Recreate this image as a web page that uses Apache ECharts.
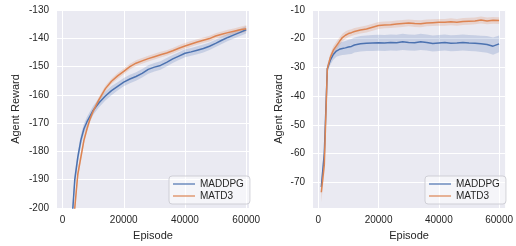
<!DOCTYPE html>
<html>
<head>
<meta charset="utf-8">
<script src="https://cdn.jsdelivr.net/npm/echarts@6/dist/echarts.min.js"></script>
<style>
  html, body { margin: 0; padding: 0; background: #fff; }
  #chart { width: 516px; height: 246px; }
</style>
</head>
<body>
<div id="chart"></div>
<script>
// left panel
const leftX = [1000, 2000, 3000, 4000, 5000, 6000, 7000, 8000, 9000, 10000, 12000, 14000, 16000, 18000, 20000,
  22000, 24000, 26000, 28000, 30000, 32000, 34000, 36000, 38000, 40000, 42000, 44000, 46000, 48000, 50000,
  52000, 54000, 56000, 58000, 60000];
const leftMaddpg = [-290, -240, -206, -190, -182, -176, -172, -169.5, -167.5, -165.5, -162.7, -160.4, -158.5, -157, -155.5,
  -154.4, -153.5, -152.4, -151, -150.2, -149.6, -148.5, -147.3, -146.3, -145.3, -144.8, -144.2, -143.6, -142.8, -141.8,
  -140.7, -139.7, -138.8, -137.9, -137];
const leftMaddpgSpread = [6, 5, 3, 2.5, 2, 2, 1.8, 1.8, 1.7, 1.6, 1.6, 1.6, 1.6, 1.5, 1.5,
  1.5, 1.5, 1.5, 1.5, 1.5, 1.5, 1.5, 1.4, 1.4, 1.4, 1.4, 1.4, 1.4, 1.3, 1.3,
  1.3, 1.3, 1.3, 1.3, 1.3];
const leftMatd3 = [-300, -260, -225, -200, -188, -182, -176, -172, -168.5, -165.8, -161.5, -157.8, -155.2, -153.3, -151.7,
  -150, -148.8, -148, -147.2, -146.5, -145.8, -145.2, -144.4, -143.5, -142.7, -142, -141.3, -140.7, -140.1, -139.2,
  -138.6, -138, -137.5, -137, -136.6];
const leftMatd3Spread = [6, 5, 3, 2.5, 2, 1.6, 1.4, 1.2, 1.1, 1.1, 1, 1, 1, 1, 1,
  1, 1, 1, 1, 1, 1, 1, 1, 1, 1, 1, 1, 1, 1, 1,
  1, 1, 1, 1.1, 1.2];

// right panel
const rightX = [1000, 2000, 3000, 4000, 5000, 6000, 7000, 8000, 9000, 10000, 11000, 12000, 14000, 16000, 18000, 20000,
  22000, 24000, 26000, 28000, 30000, 32000, 34000, 36000, 38000, 40000, 42000, 44000, 46000, 48000, 50000,
  52000, 54000, 56000, 58000, 60000];
const rightMaddpg = [-71.7, -60, -30.5, -27.5, -25.5, -24.3, -23.7, -23.4, -23.2, -22.9, -22.7, -22.2, -21.8, -21.6, -21.5, -21.4,
  -21.5, -21.3, -21.4, -21.1, -21.3, -21.4, -21.1, -21.3, -21.7, -21.5, -21.3, -21.6, -21.5, -21.3, -21.5,
  -21.6, -21.8, -22.0, -22.6, -21.8];
const rightMaddpgSpread = [2.5, 3, 1.5, 1.6, 1.8, 2, 2.2, 2.3, 2.4, 2.5, 2.6, 2.6, 2.7, 2.7, 2.8, 2.8,
  2.8, 2.8, 2.8, 2.8, 2.8, 2.8, 2.8, 2.8, 2.8, 2.8, 2.8, 2.8, 2.8, 2.8, 2.8,
  2.8, 2.8, 2.9, 3, 2.9];
const rightMatd3 = [-73.5, -64, -30.5, -26.5, -24, -22.5, -21, -19.6, -18.8, -18.2, -17.9, -17.5, -17.0, -16.6, -16.0, -15.4,
  -15.2, -15.1, -14.9, -14.7, -14.5, -14.7, -14.8, -14.5, -14.4, -14.3, -14.3, -14.1, -14.3, -14.0, -13.9,
  -13.8, -13.5, -13.8, -13.6, -13.7];
const rightMatd3Spread = [3.5, 3, 1.2, 1.3, 1.4, 1.4, 1.4, 1.3, 1.3, 1.2, 1.2, 1.2, 1.2, 1.2, 1.2, 1.2,
  1.2, 1.2, 1.2, 1.2, 1.2, 1.2, 1.2, 1.2, 1.2, 1.2, 1.2, 1.2, 1.2, 1.2, 1.2,
  1.2, 1.2, 1.2, 1.2, 1.2];

const xTicks = [0, 20000, 40000, 60000];
const leftYTicks = [-200, -190, -180, -170, -160, -150, -140, -130];
const rightYTicks = [-70, -60, -50, -40, -30, -20, -10];

const BLUE = '#4C72B0';
const ORANGE = '#DD8452';
const TEXT = '#262626';
const FONT = '"Liberation Sans", Arial, sans-serif';

function pts(xs, ys) {
  return xs.map((x, i) => [x, ys[i]]);
}

// confidence band drawn as one polygon through the axis scales
function bandSeries(xs, ys, spread, color, idx) {
  const rows = xs.map((x, i) => [x, ys[i] - spread[i], ys[i] + spread[i]]);
  return {
    type: 'custom', xAxisIndex: idx, yAxisIndex: idx, silent: true, clip: true, z: 1,
    data: rows,
    encode: { x: 0, y: [1, 2] },
    renderItem: function (params, api) {
      if (params.dataIndex !== 0) return;
      const top = rows.map(r => api.coord([r[0], r[2]]));
      const bottom = rows.map(r => api.coord([r[0], r[1]])).reverse();
      const cs = params.coordSys;
      return {
        type: 'polygon',
        shape: { points: top.concat(bottom) },
        style: { fill: color, opacity: 0.22 },
        clipPath: { type: 'rect', shape: { x: cs.x, y: cs.y, width: cs.width, height: cs.height } }
      };
    }
  };
}

function mainLine(name, xs, ys, color, idx) {
  return {
    name: name, type: 'line', xAxisIndex: idx, yAxisIndex: idx,
    data: pts(xs, ys), symbol: 'none', color: color,
    lineStyle: { color: color, width: 1.5 }, z: 3
  };
}

function xAxisCfg(idx, min, max) {
  return {
    type: 'value', gridIndex: idx, min: min, max: max,
    name: 'Episode', nameLocation: 'middle', nameGap: 22,
    nameTextStyle: { color: TEXT, fontSize: 11, fontFamily: FONT },
    axisLine: { show: false }, axisTick: { show: false, customValues: xTicks },
    axisLabel: { customValues: xTicks, formatter: v => String(v), color: TEXT, fontSize: 10, fontFamily: FONT, margin: 7 },
    splitLine: { show: true, lineStyle: { color: '#fff', width: 1 } }
  };
}

function yAxisCfg(idx, min, max, ticks, gap) {
  return {
    type: 'value', gridIndex: idx, min: min, max: max,
    name: 'Agent Reward', nameLocation: 'middle', nameGap: gap,
    nameTextStyle: { color: TEXT, fontSize: 11, fontFamily: FONT },
    axisLine: { show: false }, axisTick: { show: false, customValues: ticks },
    axisLabel: { customValues: ticks, color: TEXT, fontSize: 10, fontFamily: FONT, margin: 8 },
    splitLine: { show: true, lineStyle: { color: '#fff', width: 1 } }
  };
}

function legendCfg(left) {
  return {
    data: ['MADDPG', 'MATD3'], orient: 'vertical', left: left, top: 176,
    backgroundColor: 'rgba(255,255,255,0.5)', borderColor: '#cfcfd6', borderWidth: 1, borderRadius: 3,
    padding: [3, 6, 3, 4], itemGap: 2, itemWidth: 22, itemHeight: 12,
    icon: 'path://M0,5.4 L22,5.4 L22,6.6 L0,6.6 Z',
    textStyle: { color: TEXT, fontSize: 10, fontFamily: FONT }, selectedMode: false
  };
}

const chart = echarts.init(document.getElementById('chart'), null, { renderer: 'canvas' });
chart.setOption({
  animation: false,
  backgroundColor: '#fff',
  grid: [
    { left: 57, top: 10, width: 192, height: 204, show: true, backgroundColor: '#EAEAF2', borderWidth: 0 },
    { left: 313, top: 10, width: 194, height: 204, show: true, backgroundColor: '#EAEAF2', borderWidth: 0 }
  ],
  xAxis: [xAxisCfg(0, -1800, 60900), xAxisCfg(1, -1750, 62000)],
  yAxis: [yAxisCfg(0, -200, -130, leftYTicks, 36), yAxisCfg(1, -79, -10, rightYTicks, 29)],
  legend: [legendCfg(169), legendCfg(425)],
  series: [
    bandSeries(leftX, leftMaddpg, leftMaddpgSpread, BLUE, 0),
    bandSeries(leftX, leftMatd3, leftMatd3Spread, ORANGE, 0),
    mainLine('MADDPG', leftX, leftMaddpg, BLUE, 0),
    mainLine('MATD3', leftX, leftMatd3, ORANGE, 0),
    bandSeries(rightX, rightMaddpg, rightMaddpgSpread, BLUE, 1),
    bandSeries(rightX, rightMatd3, rightMatd3Spread, ORANGE, 1),
    mainLine('MADDPG', rightX, rightMaddpg, BLUE, 1),
    mainLine('MATD3', rightX, rightMatd3, ORANGE, 1)
  ]
});
</script>
</body>
</html>
